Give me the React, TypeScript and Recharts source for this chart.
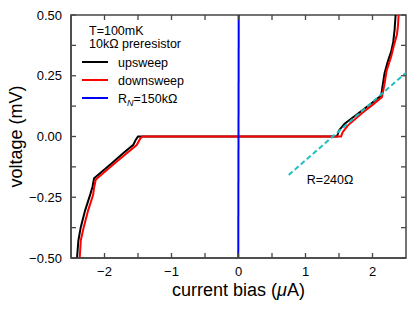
import { Label, Legend, Line, LineChart, ReferenceArea, ReferenceDot, XAxis, YAxis } from 'recharts'

// [current bias (uA), voltage (mV)]
const upsweep: [number, number][] = [
  [-2.41, -0.5], [-2.39, -0.428], [-2.354, -0.373], [-2.29, -0.305], [-2.21, -0.236],
  [-2.18, -0.208], [-2.155, -0.172], [-1.9, -0.112], [-1.7, -0.064], [-1.57, -0.034],
  [-1.53, -0.012], [-1.5, 0], [1.47, 0], [1.5, 0.025], [1.58, 0.052], [1.8, 0.098],
  [2.0, 0.14], [2.13, 0.169], [2.155, 0.217], [2.18, 0.26], [2.23, 0.31], [2.28, 0.35],
  [2.31, 0.39], [2.33, 0.44], [2.345, 0.5],
]

const downsweep: [number, number][] = [
  [-2.37, -0.5], [-2.354, -0.428], [-2.31, -0.373], [-2.245, -0.305], [-2.17, -0.24],
  [-2.155, -0.21], [-2.13, -0.177], [-1.9, -0.122], [-1.7, -0.076], [-1.52, -0.035],
  [-1.465, -0.008], [-1.435, 0], [1.53, 0], [1.555, 0.018], [1.63, 0.045], [1.85, 0.098],
  [2.0, 0.13], [2.14, 0.162], [2.18, 0.217], [2.21, 0.27], [2.28, 0.33], [2.32, 0.375],
  [2.365, 0.42], [2.38, 0.455], [2.39, 0.5],
]

// R_N = 150 kOhm through the origin
const normalLine: [number, number][] = [[-0.0033, -0.5], [0.0033, 0.5]]

// R = 240 Ohm guide
const fitLine: [number, number][] = [[0.75, -0.158], [2.5, 0.262]]

const seriesNames = ['upsweep', 'downsweep', 'R_N=150kΩ']
const seriesColors = ['#000000', '#ff0000', '#0000ff']
const fitColor = '#1fbfbf'
const legendTitle = ['T=100mK', '10kΩ preresistor']
const fitLabel = { i: 1.02, v: -0.177, text: 'R=240Ω' }

const xDomain: [number, number] = [-2.5, 2.5]
const yDomain: [number, number] = [-0.5, 0.5]
const xTicks = [-2, -1.5, -1, -0.5, 0, 0.5, 1, 1.5, 2]
const xLabelTicks = [-2, -1, 0, 1, 2]
const yTicks = [-0.5, -0.375, -0.25, -0.125, 0, 0.125, 0.25, 0.375, 0.5]
const yLabelTicks = [-0.5, -0.25, 0, 0.25, 0.5]

const W = 415
const H = 310
const MARGIN = { top: 15, right: 9, bottom: 0, left: 0 }
const PLOT_TOP = MARGIN.top
const PLOT_RIGHT = W - MARGIN.right
const TICK = 5

const AXIS = '#454545'
const FONT = '"Liberation Sans", Arial, Helvetica, sans-serif'

const toPoints = (rows: [number, number][]) => rows.map(([i, v]) => ({ i, v }))

const fmtX = (v: number) => (v < 0 ? `\u2212${Math.abs(v)}` : `${v}`)
const fmtY = (v: number) => (v < 0 ? `\u2212${Math.abs(v).toFixed(2)}` : v.toFixed(2))

// bottom ticks point inward, and the same ticks are mirrored on the top edge
function BottomTick(props: any) {
  const { x, y, payload } = props
  const v = payload.value
  return (
    <g>
      <line x1={x} x2={x} y1={y} y2={y - TICK} stroke={AXIS} strokeWidth={1.3} />
      <line x1={x} x2={x} y1={PLOT_TOP} y2={PLOT_TOP + TICK} stroke={AXIS} strokeWidth={1.3} />
      {xLabelTicks.includes(v) && (
        <text x={x} y={y + 18} textAnchor="middle" fontSize={13} fill="#000">
          {fmtX(v)}
        </text>
      )}
    </g>
  )
}

// left ticks point inward, mirrored on the right edge
function LeftTick(props: any) {
  const { x, y, payload } = props
  const v = payload.value
  return (
    <g>
      <line x1={x} x2={x + TICK} y1={y} y2={y} stroke={AXIS} strokeWidth={1.3} />
      <line x1={PLOT_RIGHT} x2={PLOT_RIGHT - TICK} y1={y} y2={y} stroke={AXIS} strokeWidth={1.3} />
      {yLabelTicks.includes(v) && (
        <text x={x - 9} y={y} dy="0.36em" textAnchor="end" fontSize={13} fill="#000">
          {fmtY(v)}
        </text>
      )}
    </g>
  )
}

function seriesLabel(name: string) {
  const [head, rest] = name.split('_')
  if (rest === undefined) return name
  return (
    <>
      {head}
      <tspan fontSize={9} fontStyle="italic" dy={3}>
        {rest.slice(0, 1)}
      </tspan>
      <tspan dy={-3}>{rest.slice(1)}</tspan>
    </>
  )
}

function LegendBox() {
  return (
    <svg width={200} height={115} style={{ display: 'block', fontFamily: FONT }}>
      <text x={89} y={34.7} fontSize={12.5}>{legendTitle[0]}</text>
      <text x={89} y={48.3} fontSize={12.5}>{legendTitle[1]}</text>
      {seriesNames.map((name, k) => (
        <g key={name}>
          <line x1={82} x2={108} y1={62 + 18 * k} y2={62 + 18 * k} stroke={seriesColors[k]} strokeWidth={2} />
          <text x={118} y={62 + 18 * k} dy="0.36em" fontSize={12.5}>
            {seriesLabel(name)}
          </text>
        </g>
      ))}
    </svg>
  )
}

export default function App() {
  return (
    <div style={{ width: W, height: H, fontFamily: FONT }}>
      <style>{'body{margin:0}'}</style>
      <LineChart width={W} height={H} margin={MARGIN}>
        <XAxis
          dataKey="i"
          type="number"
          domain={xDomain}
          ticks={xTicks}
          interval={0}
          tick={BottomTick}
          tickLine={false}
          tickSize={0}
          tickMargin={0}
          height={52}
          axisLine={{ stroke: AXIS, strokeWidth: 1.5 }}
          allowDataOverflow
        >
          <Label
            content={(p: any) => {
              const { x, y, width } = p.viewBox
              return (
                <text x={x + width / 2} y={y + 38} textAnchor="middle" fontSize={18} fill="#000">
                  current bias (<tspan fontStyle="italic">μ</tspan>A)
                </text>
              )
            }}
          />
        </XAxis>
        <YAxis
          dataKey="v"
          type="number"
          domain={yDomain}
          ticks={yTicks}
          interval={0}
          tick={LeftTick}
          tickLine={false}
          tickSize={0}
          tickMargin={0}
          width={71}
          axisLine={{ stroke: AXIS, strokeWidth: 1.5 }}
          allowDataOverflow
        >
          <Label
            content={(p: any) => {
              const { y, height } = p.viewBox
              const cy = y + height / 2
              return (
                <text
                  x={22}
                  y={cy}
                  transform={`rotate(-90 22 ${cy})`}
                  textAnchor="middle"
                  fontSize={18}
                  fill="#000"
                >
                  voltage (mV)
                </text>
              )
            }}
          />
        </YAxis>
        {/* box frame around the plot */}
        <ReferenceArea
          x1={xDomain[0]}
          x2={xDomain[1]}
          y1={yDomain[0]}
          y2={yDomain[1]}
          ifOverflow="visible"
          fill="none"
          fillOpacity={0}
          stroke={AXIS}
          strokeWidth={1.5}
        />
        <Legend
          layout="horizontal"
          verticalAlign="middle"
          align="center"
          content={LegendBox}
          wrapperStyle={{ position: 'absolute', left: 0, top: 0, width: 200, height: 115 }}
        />
        <Line
          data={toPoints(upsweep)}
          dataKey="v"
          name={seriesNames[0]}
          type="linear"
          stroke={seriesColors[0]}
          strokeWidth={2}
          dot={false}
          activeDot={false}
          isAnimationActive={false}
        />
        <Line
          data={toPoints(downsweep)}
          dataKey="v"
          name={seriesNames[1]}
          type="linear"
          stroke={seriesColors[1]}
          strokeWidth={2}
          dot={false}
          activeDot={false}
          isAnimationActive={false}
        />
        <Line
          data={toPoints(normalLine)}
          dataKey="v"
          name={seriesNames[2]}
          type="linear"
          stroke={seriesColors[2]}
          strokeWidth={2}
          dot={false}
          activeDot={false}
          isAnimationActive={false}
        />
        <Line
          data={toPoints(fitLine)}
          dataKey="v"
          name="fit"
          legendType="none"
          type="linear"
          stroke={fitColor}
          strokeWidth={2}
          strokeDasharray="5 3"
          dot={false}
          activeDot={false}
          isAnimationActive={false}
        />
        <ReferenceDot
          x={fitLabel.i}
          y={fitLabel.v}
          r={0}
          fill="none"
          stroke="none"
          label={(p: any) => (
            <text x={p.viewBox.x} y={p.viewBox.y} dy="0.36em" fontSize={12.5} fill="#000">
              {fitLabel.text}
            </text>
          )}
        />
      </LineChart>
    </div>
  )
}
